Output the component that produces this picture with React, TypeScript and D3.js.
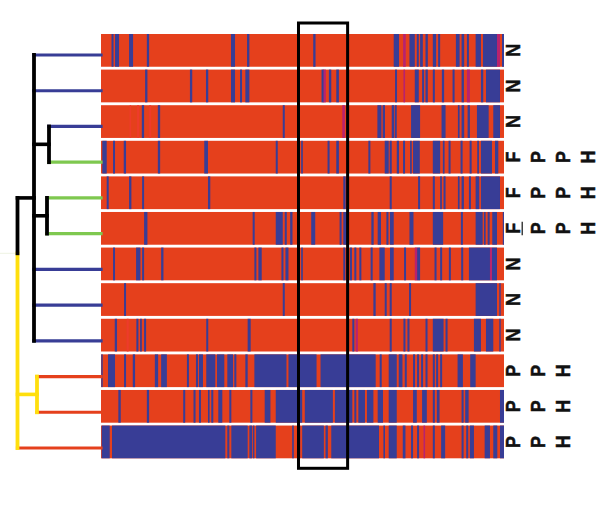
import { useEffect, useRef } from 'react';
import * as d3 from 'd3';

// stripes per isolate: [from, to] in alignment sites, anything else is background
const row00 = [[10.5,12.5],[14,18],[28,32],[45.7,48],[129.7,133.7],[145.7,148],[211.7,214],[292,297.3],[307.7,313],[315,317],[318.3,321],[323.7,326],[331,334.3],[336.3,338.3],[354,357.7],[359.7,362.3],[365,367],[373.7,379],[381,395],[400,402]];
const row01 = [[44,46.3],[88.7,91],[104.7,107],[129.7,133.7],[138.7,140.7],[144,148],[220,222.5],[227.3,229.7],[234.7,237.3],[293.3,295.3],[313,317],[320.3,322.3],[323.7,326],[331,333],[340,342.3],[350.7,352.7],[359.7,362],[379,381.3],[384,398]];
const row02 = [[40.7,43],[56.7,59],[181.3,183.3],[275.7,279.7],[281,283.3],[290,292.3],[293,295],[309.3,318.3],[339.7,343.7],[356,357.7],[359.7,362.3],[365.7,368],[375,386.7],[391.3,398]];
const row03 = [[1.3,5.7],[12,14],[22.7,25],[56.7,59],[103,106.7],[174.3,176.3],[199.7,201.3],[226,228],[234.7,237.3],[266.7,268.7],[283,287],[288,290],[295,297.3],[301.3,303.3],[308.3,310],[311.3,318],[331,338.3],[341,342.7],[346.7,348.7],[358.7,360.7],[367.7,369.7],[375.3,377],[379,390],[393,396.3]];
const row04 = [[5.7,7.7],[28,30.3],[41,43],[106.7,109],[241.7,244],[288,290],[316.3,318.3],[331,333],[338.3,340],[341.7,343.7],[356,357.7],[359.7,362],[367,369],[373.7,377.3],[379,398]];
const row05 = [[43,46.3],[151.3,153.3],[174.3,181.3],[183.3,185.3],[188.7,191],[209.7,213.7],[238,240],[241.7,245.7],[269.7,272],[276,279.3],[284.7,286.7],[288.3,292],[307.7,311.7],[331,341.3],[359,361],[373.7,380.7],[382,383.7],[385.7,387.7],[390.3,395],[400.8,402]];
const row06 = [[12,14],[35,39.3],[41,43],[60,62.3],[153,155],[157,160.3],[180,182],[184,187],[199.7,201.3],[241.7,243.7],[248.3,250.3],[252.7,254.7],[257.7,259.7],[269,271],[277.7,283],[288.3,292],[302.3,304.3],[315.3,318.3],[332.7,334.7],[338.3,340.3],[347,349],[359.3,361.3],[367,388],[390,395]];
const row07 = [[23,25],[181.3,183.3],[271.7,274],[283,285],[288,290],[307.3,309.3],[373.7,395],[397.3,398.7]];
const row08 = [[13.7,16],[35.3,37.3],[39,40.7],[43,45],[105,107],[146.3,149.3],[250.7,252.7],[288,290],[301.7,303.7],[305.7,307.7],[323.7,325.7],[331,341.7],[343.7,345.7],[372,379],[384,391.3],[397.3,398.7]];
const row09 = [[0.3,1.7],[7,14],[23,25],[31.7,34],[53.7,57],[60,65.7],[85.7,87.7],[94.7,96.7],[97.7,101.7],[105,114],[115.7,123],[126,131.7],[133,135],[144,146.3],[153,185],[187,215],[219,274],[278,280],[287,295],[297,300.7],[303,305],[311.3,313.3],[315.3,317.3],[319.3,321.3],[323.7,325.7],[331,333],[334.3,336.3],[338.3,340.3],[355.7,361],[368.3,373.7]];
const row10 = [[17.3,19.7],[45.7,48],[82,84],[92.3,94.3],[97.7,99.7],[106.7,108.3],[110,112],[117,121],[128,130],[149,151],[163.3,169],[174.3,200.7],[203.3,231.3],[233.3,250.7],[252.7,254.7],[256.7,263.3],[265.3,271.7],[276,281.3],[287,295],[311.3,315],[320.3,325],[331,333],[335,337.7],[359.7,361.7],[363.3,366.7],[398,402]];
const row11 = [[0.7,8.7],[11,124],[126,128],[130,146.3],[148,150.7],[151.5,153],[154.7,174.3],[190.7,192.3],[196.7,198.7],[200.7,222.3],[224,226.3],[229.7,277.3],[281.7,283.3],[287,295],[301,303.7],[309.3,311.3],[315.3,317.3],[331,333],[339.3,343.3],[359.7,361.7],[364.3,366.3],[368,372],[382.7,388],[391.3,395.3],[398,402]];
const stripes = [row00, row01, row02, row03, row04, row05, row06, row07, row08, row09, row10, row11];

// mixed sites, drawn in magenta: [row, from, to]
const mixedSites = [[0,301.3,304],[0,395,398],[1,222,224.3],[1,301.7,303.3],[1,365,368],[2,240.7,243.3],[6,313,315.3],[6,388,390],[8,254,256.3],[11,321.7,323.3]];
// paler red stripes: [row, from, to]
const paleSites = [[2,28.5,30],[2,36,38],[2,48,50],[8,25.7,27.5]];

const rowLabels = [
  ['N'], ['N'], ['N'],
  ['F', 'P', 'P', 'H'], ['F', 'P', 'P', 'H'], ['F', 'P', 'P', 'H'],
  ['N'], ['N'], ['N'],
  ['P', 'P', 'H'], ['P', 'P', 'H'], ['P', 'P', 'H'],
];
const underlined = [[5, 0]];

// dendrogram: branch height in sites-like units, leaves point at a row
type TreeNode = { height: number; color: string; row?: number; children?: TreeNode[] };
const BLUE = '#373c96';
const GREEN = '#7ec850';
const RED = '#e5401e';
const YELLOW = '#ffdf10';
const BLACK = '#000000';
const leafHeight = 83.5;
const leaf = (row: number, color: string): TreeNode => ({ height: leafHeight, color, row });
const tree: TreeNode = {
  height: 0,
  color: BLACK,
  children: [
    {
      height: 16.5,
      color: BLACK,
      children: [
        leaf(0, BLUE),
        leaf(1, BLUE),
        { height: 31.5, color: BLACK, children: [leaf(2, BLUE), leaf(3, GREEN)] },
        { height: 29.5, color: BLACK, children: [leaf(4, GREEN), leaf(5, GREEN)] },
        leaf(6, BLUE),
        leaf(7, BLUE),
        leaf(8, BLUE),
      ],
    },
    { height: 19.5, color: YELLOW, children: [leaf(9, RED), leaf(10, RED)] },
    leaf(11, RED),
  ],
};
const rootColorBreak = 5.55; // the root line turns from black to yellow here

const App = () => {
  const chartRef = useRef<SVGSVGElement | null>(null);

  useEffect(() => {
    const svg = d3.select(chartRef.current);
    svg.selectAll('*').remove();

    const siteCount = 402;
    const x = d3.scaleLinear().domain([0, siteCount]).range([101, 504]);
    const y = d3.scaleBand<number>()
      .domain(d3.range(stripes.length))
      .range([34, 458.3])
      .paddingInner(0.08);

    const blur = svg.append('defs').append('filter').attr('id', 'soft')
      .attr('x', '-2%').attr('y', '-2%').attr('width', '104%').attr('height', '104%');
    blur.append('feGaussianBlur').attr('stdDeviation', 0.35);

    // heat map rows
    const heat = svg.append('g').attr('filter', 'url(#soft)');
    const rows = heat.selectAll('g.row')
      .data(stripes)
      .enter()
      .append('g')
      .attr('class', 'row')
      .attr('transform', (_, i) => `translate(0,${y(i)})`);

    rows.append('rect')
      .attr('x', x(0))
      .attr('width', x(siteCount) - x(0))
      .attr('height', y.bandwidth())
      .attr('fill', RED);

    rows.selectAll('rect.stripe')
      .data(d => d)
      .enter()
      .append('rect')
      .attr('class', 'stripe')
      .attr('x', d => x(d[0]))
      .attr('width', d => x(d[1]) - x(d[0]))
      .attr('height', y.bandwidth())
      .attr('fill', BLUE);

    const extras = (sites: number[][], fill: string) => {
      heat.selectAll(null)
        .data(sites)
        .enter()
        .append('rect')
        .attr('x', d => x(d[1]))
        .attr('y', d => y(d[0])!)
        .attr('width', d => x(d[2]) - x(d[1]))
        .attr('height', y.bandwidth())
        .attr('fill', fill);
    };
    extras(paleSites, '#ee3a2c');
    extras(mixedSites, '#b8246e');

    // highlighted window
    svg.append('rect')
      .attr('x', x(197))
      .attr('y', y(0)! - 11)
      .attr('width', x(246) - x(197))
      .attr('height', y(11)! + y.bandwidth() - y(0)! + 21)
      .attr('fill', 'none')
      .attr('stroke', BLACK)
      .attr('stroke-width', 3);

    // dendrogram
    const treeX = d3.scaleLinear().domain([0, leafHeight]).range([17.5, 101]);
    const treeY = d3.scaleLinear().domain([0, stripes.length - 1]).range([55, 448]);
    const root = d3.hierarchy(tree);
    const rowOf = (n: d3.HierarchyNode<TreeNode>): number => {
      if (n.data.row !== undefined) return n.data.row;
      const kids = n.children!.map(rowOf);
      return (kids[0] + kids[kids.length - 1]) / 2;
    };

    const dendro = svg.append('g').attr('fill', 'none').attr('filter', 'url(#soft)');
    dendro.append('line')
      .attr('x1', 0).attr('x2', treeX(0) - 2)
      .attr('y1', treeY(rootColorBreak)).attr('y2', treeY(rootColorBreak))
      .attr('stroke', '#eef3e2').attr('stroke-width', 1);

    const segment = (x1: number, y1: number, x2: number, y2: number, color: string, w: number) => {
      dendro.append('line')
        .attr('x1', x1).attr('y1', y1).attr('x2', x2).attr('y2', y2)
        .attr('stroke', color).attr('stroke-width', w)
        .attr('stroke-linecap', 'square');
    };

    // stems first so the verticals sit on top
    root.descendants().slice(1).forEach(n => {
      const w = n.data.row !== undefined ? 3.2 : 3.6;
      segment(treeX(n.parent!.data.height), treeY(rowOf(n)), treeX(n.data.height), treeY(rowOf(n)), n.data.color, w);
    });
    root.descendants().filter(n => n.children).forEach(n => {
      const kids = n.children!.map(rowOf);
      const top = kids[0];
      const bottom = kids[kids.length - 1];
      if (n.depth === 0) {
        segment(treeX(0), treeY(rootColorBreak), treeX(0), treeY(bottom), YELLOW, 3.8);
        segment(treeX(0), treeY(top), treeX(0), treeY(rootColorBreak), BLACK, 3.8);
      } else {
        segment(treeX(n.data.height), treeY(top), treeX(n.data.height), treeY(bottom), n.data.color, 3.8);
      }
    });

    // letters to the right of every row
    const column = d3.scaleLinear().domain([0, 1]).range([520, 545]);
    rowLabels.forEach((letters, r) => {
      letters.forEach((letter, c) => {
        const cy = y(r)! + y.bandwidth() / 2;
        svg.append('text')
          .attr('transform', `translate(${column(c)},${cy}) rotate(-90) scale(0.85,1)`)
          .attr('text-anchor', 'middle')
          .style('font-family', '"Liberation Sans", Arial, sans-serif')
          .style('font-weight', 'bold')
          .style('font-size', '21px')
          .attr('fill', '#111111')
          .attr('stroke', '#111111')
          .attr('stroke-width', 0.5)
          .text(letter);
        // the underline is a separate thin rule, it stands clear of the letter
        if (underlined.some(u => u[0] === r && u[1] === c)) {
          svg.append('line')
            .attr('x1', column(c) + 2.2).attr('x2', column(c) + 2.2)
            .attr('y1', cy - 6.5).attr('y2', cy + 7)
            .attr('stroke', '#111111')
            .attr('stroke-width', 1.2);
        }
      });
    });
  }, []);

  return (
    <svg
      ref={chartRef}
      width={600}
      height={517}
      style={{ position: 'absolute', left: 0, top: 0, background: '#fff' }}
    />
  );
};

export default App;
